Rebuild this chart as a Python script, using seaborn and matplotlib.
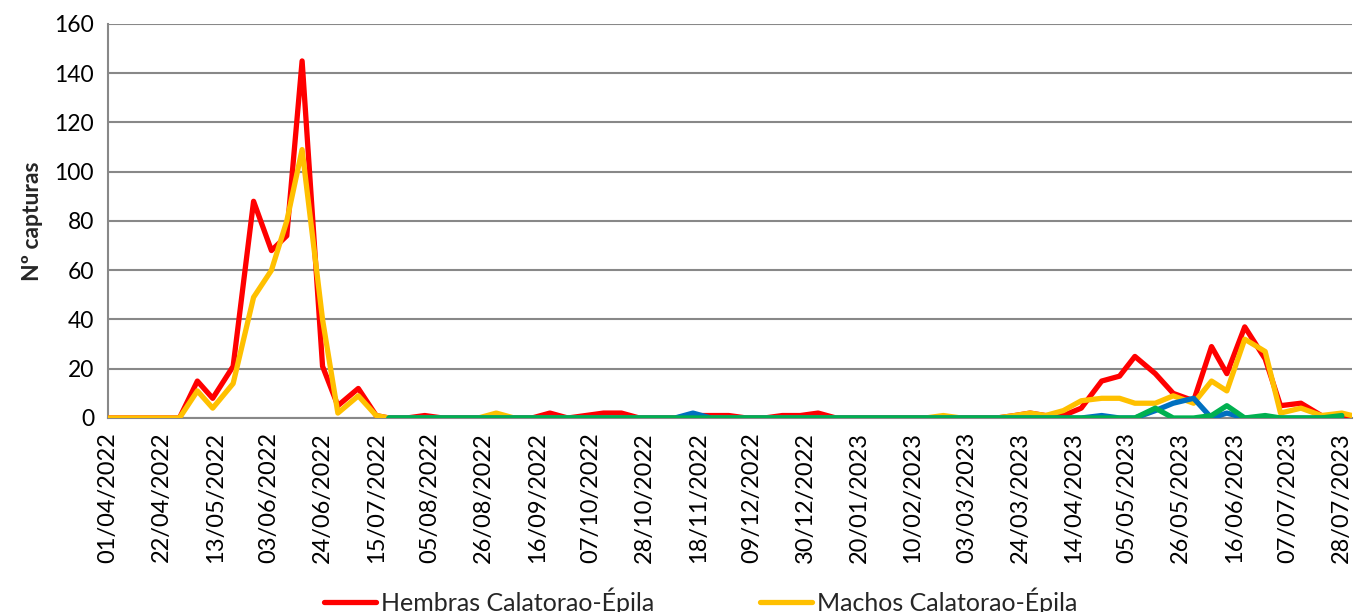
import matplotlib
matplotlib.use("Agg")
import matplotlib.pyplot as plt
import matplotlib.dates as mdates
from matplotlib.lines import Line2D
import numpy as np
import pandas as pd
import seaborn as sns

# Sampling dates: irregular spring/summer 2022, weekly through winter, irregular 2023 season
early_dates = ["2022-04-01", "2022-04-08", "2022-04-15", "2022-04-22", "2022-04-29",
               "2022-05-06", "2022-05-12", "2022-05-20", "2022-05-28", "2022-06-04",
               "2022-06-10", "2022-06-16", "2022-06-24", "2022-06-30", "2022-07-08",
               "2022-07-15"]
weekly_dates = pd.date_range("2022-07-20", "2023-03-15", freq="7D")
late_dates = ["2023-03-22", "2023-03-28", "2023-04-03", "2023-04-10", "2023-04-17",
              "2023-04-25", "2023-05-02", "2023-05-08", "2023-05-16", "2023-05-23",
              "2023-05-31", "2023-06-07", "2023-06-13", "2023-06-20", "2023-06-28",
              "2023-07-04", "2023-07-12", "2023-07-20", "2023-07-28", "2023-08-01"]

dates = list(pd.to_datetime(early_dates)) + list(weekly_dates) + list(pd.to_datetime(late_dates))

# Catches per sampling date
hembras_ce = ([0, 0, 0, 0, 0, 15, 8, 21, 88, 68, 74, 145, 21, 5, 12, 1] +
              [0, 0, 1, 0, 0, 0, 0, 0, 0, 2, 0, 1, 2, 2, 0, 0, 0, 1, 1, 1,
               0, 0, 1, 1, 2, 0, 0, 0, 0, 0, 0, 0, 0, 0, 0] +
              [1, 2, 1, 1, 4, 15, 17, 25, 18, 10, 7, 29, 18, 37, 24, 5, 6, 1, 0, 1])
machos_ce = ([0, 0, 0, 0, 0, 11, 4, 14, 49, 60, 80, 109, 40, 2, 9, 1] +
             [0, 0, 0, 0, 0, 0, 2, 0, 0, 0, 0, 0, 0, 0, 0, 0, 0, 0, 0, 0,
              0, 0, 0, 0, 0, 0, 0, 0, 0, 0, 0, 1, 0, 0, 0] +
             [1, 2, 1, 3, 7, 8, 8, 6, 6, 9, 6, 15, 11, 32, 27, 2, 4, 1, 2, 1])
# Second trap line, sampled from 20/07/2022 to 28/07/2023
serie_azul = ([0, 0, 0, 0, 0, 0, 0, 0, 0, 0, 0, 0, 0, 0, 0, 0, 0, 2, 0, 0,
               0, 0, 0, 0, 0, 0, 0, 0, 0, 0, 0, 0, 0, 0, 0] +
              [0, 0, 0, 0, 0, 1, 0, 0, 3, 6, 8, 0, 2, 0, 0, 0, 0, 0, 0])
serie_verde = ([0] * 35 +
               [0, 0, 0, 0, 0, 0, 0, 0, 4, 0, 0, 1, 5, 0, 1, 0, 0, 0, 1])

y_ticks = [0, 20, 40, 60, 80, 100, 120, 140, 160]
x_ticks = pd.date_range("2022-04-01", "2023-07-28", freq="21D")

df_ce = pd.DataFrame({"fecha": dates, "hembras": hembras_ce, "machos": machos_ce})
df_b = pd.DataFrame({"fecha": dates[16:16 + len(serie_azul)],
                     "azul": serie_azul, "verde": serie_verde})

sns.set_style("white")
plt.rcParams["font.family"] = ["Lato", "DejaVu Sans"]

RED, YELLOW, BLUE, GREEN = "#FF0000", "#FFC000", "#0070C0", "#00B050"
GRID = "#888888"
LW = 3.8

fig = plt.figure(figsize=(13.58, 6.12), dpi=100)
ax = fig.add_axes([0.0795, 0.317, 0.9161, 0.6438])

sns.lineplot(data=df_ce, x="fecha", y="hembras", color=RED, lw=LW, ax=ax, zorder=3)
sns.lineplot(data=df_ce, x="fecha", y="machos", color=YELLOW, lw=LW, ax=ax, zorder=4)
sns.lineplot(data=df_b, x="fecha", y="azul", color=BLUE, lw=LW, ax=ax, zorder=5)
sns.lineplot(data=df_b, x="fecha", y="verde", color=GREEN, lw=LW, ax=ax, zorder=6)

ax.set_xlim(pd.Timestamp("2022-04-01"), pd.Timestamp("2023-08-01"))
ax.set_ylim(0, 160)
ax.set_yticks(y_ticks)
ax.set_xticks(x_ticks)
ax.xaxis.set_major_formatter(mdates.DateFormatter("%d/%m/%Y"))

ax.yaxis.grid(True, color=GRID, lw=1.5, zorder=0)
ax.xaxis.grid(False)
ax.set_axisbelow(True)
for side in ("top", "right"):
    ax.spines[side].set_visible(False)
for side in ("left", "bottom"):
    ax.spines[side].set_color(GRID)
    ax.spines[side].set_linewidth(1.5)

ax.tick_params(axis="both", which="major", direction="out", length=6, width=1.5,
               color=GRID, labelsize=17, labelcolor="black", pad=4)
ax.tick_params(axis="y", labelsize=16.5)
ax.tick_params(axis="x", labelrotation=90)

ax.set_xlabel("")
ax.set_ylabel("Nº capturas", fontsize=16.5, fontweight="bold", labelpad=8)

handles = [Line2D([], [], color=RED, lw=LW), Line2D([], [], color=YELLOW, lw=LW)]
fig.legend(handles, ["Hembras Calatorao-Épila", "Machos Calatorao-Épila"],
           loc="center", bbox_to_anchor=(0.516, 0.018), ncol=2, frameon=False,
           fontsize=18, handlelength=2.1, handletextpad=0.2, columnspacing=4.2)

fig.savefig("out.png", dpi=100)
